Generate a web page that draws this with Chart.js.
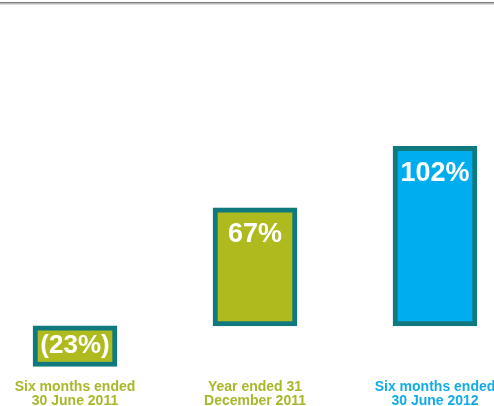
<!DOCTYPE html>
<html>
<head>
<meta charset="utf-8">
<script src="https://cdn.jsdelivr.net/npm/chart.js@4/dist/chart.umd.min.js"></script>
<style>
  html, body { margin: 0; padding: 0; background: #ffffff; }
  #wrap { width: 494px; height: 406px; }
</style>
</head>
<body>
<div id="wrap"><canvas id="c" width="494" height="406"></canvas></div>
<script>
// ---- data ----
const categories = [
  ['Six months ended', '30 June 2011'],
  ['Year ended 31', 'December 2011'],
  ['Six months ended', '30 June 2012']
];
const values = [-23, 67, 102];
const barColors = ['#AEBA1E', '#AEBA1E', '#00AEEF'];
const labelColors = ['#AAB72A', '#AAB72A', '#13ABE6'];
const borderTeal = '#10797E';

const topRule = {
  id: 'topRule',
  beforeDraw(chart) {
    const ctx = chart.ctx;
    ctx.save();
    ctx.fillStyle = '#7f7f7f';
    ctx.fillRect(0, 2, chart.width, 1.5);
    ctx.fillStyle = '#b8b8b8';
    ctx.fillRect(0, 3.5, chart.width, 1);
    ctx.restore();
  }
};

const barLabels = {
  id: 'barLabels',
  afterDatasetsDraw(chart) {
    const ctx = chart.ctx;
    const meta = chart.getDatasetMeta(0);
    ctx.save();
    ctx.fillStyle = '#ffffff';
    ctx.textAlign = 'center';
    ctx.textBaseline = 'middle';
    meta.data.forEach((bar, i) => {
      const v = values[i];
      const txt = v < 0 ? '(' + (-v) + '%)' : v + '%';
      ctx.font = (v < 0 ? 'bold 26px' : 'bold 27px') + ' "Liberation Sans", Arial, sans-serif';
      const y = v < 0 ? (bar.y + bar.base) / 2 : bar.y + 27;
      ctx.fillText(txt, bar.x, y);
    });
    ctx.restore();
  }
};

new Chart(document.getElementById('c'), {
  type: 'bar',
  data: {
    labels: categories,
    datasets: [{
      data: values,
      backgroundColor: barColors,
      borderColor: borderTeal,
      borderWidth: 5,
      borderSkipped: false,
      barThickness: 84,
      clip: false
    }]
  },
  options: {
    responsive: false,
    animation: false,
    devicePixelRatio: 1,
    layout: { padding: { left: 75, right: 59, top: 0, bottom: 0 } },
    plugins: { legend: { display: false }, tooltip: { enabled: false } },
    scales: {
      x: {
        offset: false,
        grid: { display: false, drawTicks: false },
        border: { display: false },
        afterFit: (scale) => {
          scale.height = 36;
          scale.paddingLeft = 0;
          scale.paddingRight = 0;
        },
        ticks: {
          padding: 10,
          autoSkip: false,
          maxRotation: 0,
          color: (ctx) => labelColors[ctx.index],
          font: { family: '"Liberation Sans", Arial, sans-serif', size: 14, weight: 'bold', lineHeight: 1.0 }
        }
      },
      y: {
        display: false,
        min: -25,
        max: 185
      }
    }
  },
  plugins: [topRule, barLabels]
});
</script>
</body>
</html>
